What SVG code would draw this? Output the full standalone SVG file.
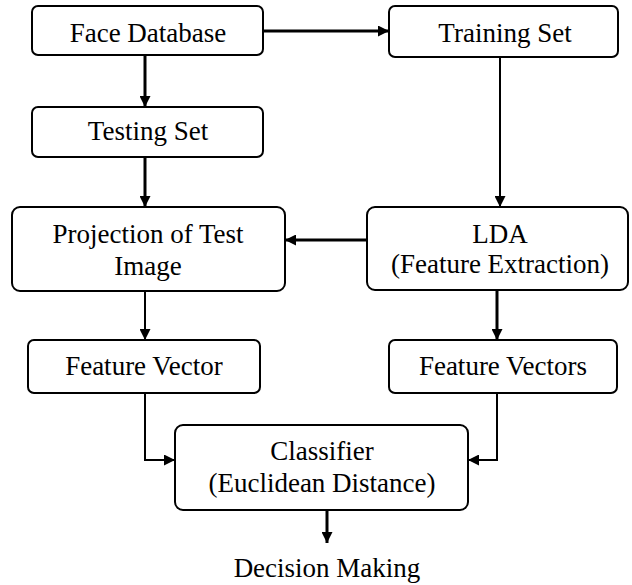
<svg xmlns="http://www.w3.org/2000/svg" width="632" height="585" viewBox="0 0 632 585">
<defs>
<marker id="ah" viewBox="0 0 10 10" refX="10" refY="5" markerWidth="11" markerHeight="11" orient="auto" markerUnits="userSpaceOnUse">
<path d="M0,0 L10,5 L0,10 z" fill="#000"/>
</marker>
</defs>
<style>
.box{fill:#fff;stroke:#000;stroke-width:2}
.t{font-family:"Liberation Serif","Times New Roman",serif;font-size:27px;fill:#000;text-anchor:middle}
.c{fill:none;stroke:#000;stroke-width:3}
.thin{fill:none;stroke:#000;stroke-width:2}
</style>
<rect width="632" height="585" fill="#fff"/>
<g id="connectors">
<path class="c" d="M263,31 H389" marker-end="url(#ah)"/>
<path class="c" d="M145,55 V107" marker-end="url(#ah)"/>
<path class="thin" d="M500,57 V207" marker-end="url(#ah)"/>
<path class="c" d="M145,157 V207" marker-end="url(#ah)"/>
<path class="c" d="M367,240 H285" marker-end="url(#ah)"/>
<path class="thin" d="M145,291 V340" marker-end="url(#ah)"/>
<path class="c" d="M497,290 V340" marker-end="url(#ah)"/>
<path class="thin" d="M145,393 V460 H175" marker-end="url(#ah)"/>
<path class="thin" d="M497,393 V460 H468" marker-end="url(#ah)"/>
<path class="c" d="M327,510 V543" marker-end="url(#ah)"/>
</g>
<g id="face-database">
<rect class="box" x="32" y="6" width="231" height="49" rx="6"/>
<text class="t" x="148" y="42">Face Database</text>
</g>
<g id="training-set">
<rect class="box" x="389" y="6" width="229" height="51" rx="6"/>
<text class="t" x="505" y="42">Training Set</text>
</g>
<g id="testing-set">
<rect class="box" x="32" y="107" width="231" height="50" rx="6"/>
<text class="t" x="148" y="140">Testing Set</text>
</g>
<g id="projection">
<rect class="box" x="12" y="207" width="273" height="84" rx="8"/>
<text class="t" x="148" y="243">Projection of Test</text>
<text class="t" x="148" y="275">Image</text>
</g>
<g id="lda">
<rect class="box" x="367" y="207" width="261" height="83" rx="8"/>
<text class="t" x="500" y="243">LDA</text>
<text class="t" x="500" y="273">(Feature Extraction)</text>
</g>
<g id="feature-vector">
<rect class="box" x="28" y="340" width="232" height="53" rx="6"/>
<text class="t" x="144" y="375">Feature Vector</text>
</g>
<g id="feature-vectors">
<rect class="box" x="389" y="340" width="228" height="53" rx="6"/>
<text class="t" x="503" y="375">Feature Vectors</text>
</g>
<g id="classifier">
<rect class="box" x="175" y="425" width="293" height="85" rx="8"/>
<text class="t" x="322" y="460">Classifier</text>
<text class="t" x="322" y="492">(Euclidean Distance)</text>
</g>
<g id="decision-making">
<text class="t" x="327" y="577">Decision Making</text>
</g>
</svg>
